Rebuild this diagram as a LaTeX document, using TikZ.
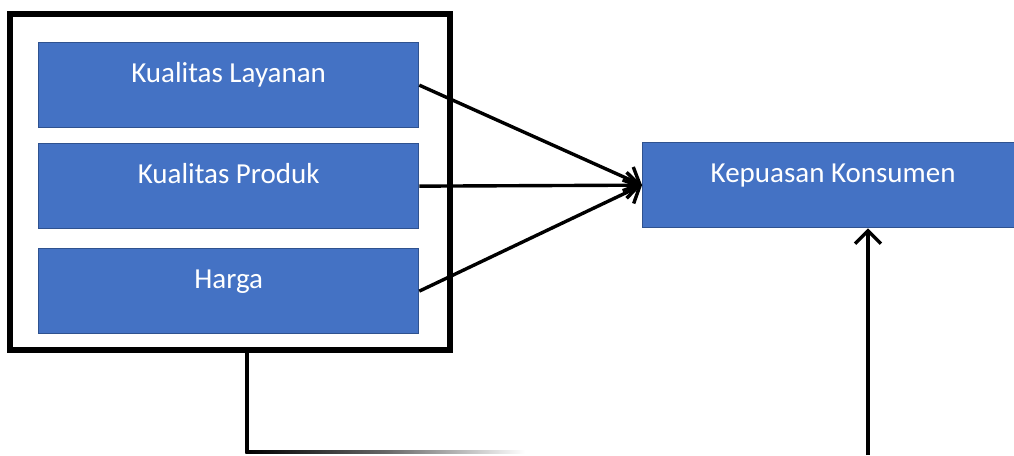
\documentclass[tikz,border=0pt]{standalone}
\usepackage{fontspec}
\setmainfont{Carlito}
\usetikzlibrary{arrows.meta,calc}
\definecolor{boxblue}{HTML}{4472C4}
\definecolor{boxedge}{HTML}{2F528F}
\begin{document}
\begin{tikzpicture}[x=1pt,y=1pt,
  varbox/.style={draw=boxedge, line width=1.3pt, fill=boxblue, text=white,
    font=\fontsize{29}{34}\selectfont, minimum width=380pt,
    text height=40pt, text depth=45pt, inner sep=0pt, anchor=north west},
  frame/.style={draw=black, line width=5.5pt, minimum width=440pt, minimum height=336pt, inner sep=0pt},
  link/.style={line width=3.4pt, -{Straight Barb[length=13pt,width=26pt,line width=3.4pt]}},
  plain/.style={line width=3.2pt}]
\useasboundingbox (0,0) rectangle (1014,455);
\clip (0,0) rectangle (1014,455);
\node[frame] (grp) at (230,273) {};
\node[varbox] (kl) at (38,413) {Kualitas Layanan};
\node[varbox] (kp) at (38,312) {Kualitas Produk};
\node[varbox] (hg) at (38,207) {Harga};
\node[varbox, minimum width=381pt] (kk) at (642,313) {Kepuasan Konsumen};
\draw[link] (kl.east) -- (kk.west);
\draw[link] (kp.east) -- (kk.west);
\draw[link] (hg.east) -- (kk.west);
\coordinate (b1) at (247,3);
\coordinate (fe) at (525,3);
\coordinate (b2) at (868,0);
\draw[plain] (grp.south -| b1) -- (b1);
\shade[left color=black, right color=white, middle color=black!60] ($(b1)+(-1.6,-1.6)$) rectangle ($(fe)+(0,1.6)$);
\draw[link] (b2) -- (b2 |- kk.south);
\end{tikzpicture}
\end{document}
